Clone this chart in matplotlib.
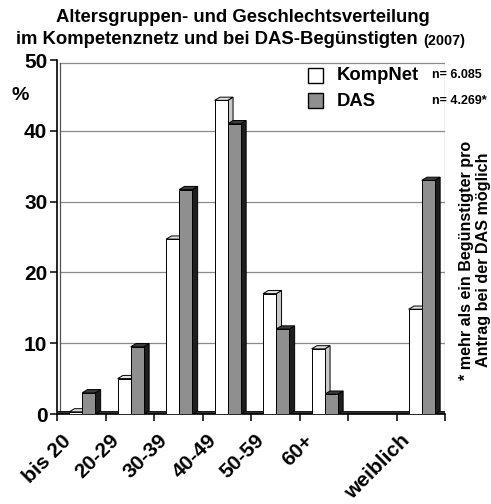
import matplotlib
matplotlib.use("Agg")
import matplotlib.pyplot as plt
from matplotlib.patches import Rectangle, Polygon

plt.rcParams["font.family"] = ["Liberation Sans", "DejaVu Sans"]
plt.rcParams["font.weight"] = "bold"

# Data (percent)
categories = ["bis 20", "20-29", "30-39", "40-49", "50-59", "60+", "", "weiblich"]
kompnet = [0.3, 5.0, 24.7, 44.3, 17.0, 9.2, 0.0, 14.8]
das = [3.0, 9.5, 31.7, 41.0, 12.0, 2.8, 0.0, 33.0]
yticks = [0, 10, 20, 30, 40, 50]

W, H = 491, 504
fig = plt.figure(figsize=(W / 100, H / 100), dpi=100)
# axes: left 57px, right 445px, top 60px, bottom 414px
ax = fig.add_axes([57 / W, (H - 414) / H, (445 - 57) / W, (414 - 60) / H])
ax.set_xlim(0, len(categories))
ax.set_ylim(0, 50)

dx, dy = 0.11, 0.45
bw = 0.27


def bar3d(x0, h, front, side, top):
    ax.add_patch(Polygon([(x0 + bw, 0), (x0 + bw + dx, dy), (x0 + bw + dx, h + dy), (x0 + bw, h)],
                         closed=True, fc=side, ec="black", lw=0.7, zorder=3))
    ax.add_patch(Polygon([(x0, h), (x0 + dx, h + dy), (x0 + bw + dx, h + dy), (x0 + bw, h)],
                         closed=True, fc=top, ec="black", lw=0.7, zorder=3))
    ax.add_patch(Rectangle((x0, 0), bw, h, fc=front, ec="black", lw=0.7, zorder=4))


# back wall / grid
for g in yticks[1:-1]:
    ax.plot([0.07, len(categories)], [g, g], color="#8a8a8a", lw=0.9, zorder=1)
ax.plot([0.07, len(categories)], [49.6, 49.6], color="#8a8a8a", lw=0.9, zorder=1)
ax.plot([0.07, 0.07], [0.3, 49.6], color="#555555", lw=0.9, zorder=1)
ax.plot([len(categories), len(categories)], [0.3, 49.6], color="#8a8a8a", lw=0.9, zorder=1)

# floor strip
ax.add_patch(Rectangle((0, 0), len(categories), 0.4, fc="#333333", ec="black", lw=0.6, zorder=2))

for i in range(len(categories)):
    if kompnet[i] > 0:
        bar3d(i + 0.25, kompnet[i], "white", "#c8c8c8", "#e0e0e0")
    if das[i] > 0:
        bar3d(i + 0.25 + bw, das[i], "#8f8f8f", "#1e1e1e", "#3c3c3c")

# axes styling
for s in ["top", "right"]:
    ax.spines[s].set_visible(False)
ax.spines["left"].set_linewidth(1.2)
ax.spines["bottom"].set_linewidth(1.2)
ax.set_yticks(yticks)
ax.set_yticklabels([str(t) for t in yticks], fontsize=15, fontweight="bold")
ax.set_xticks(range(len(categories) + 1))
ax.set_xticklabels([])
ax.tick_params(axis="both", length=5, width=1.1, direction="out", pad=2)

for i, lab in enumerate(categories):
    if lab:
        ax.text(i + 0.08, -2.4, lab, rotation=45, ha="right", va="top", rotation_mode="anchor",
                fontsize=15, fontweight="bold", clip_on=False)


def px(x, y):
    return x / W, 1 - y / H


fig.text(*px(20, 95), "%", fontsize=14, fontweight="bold", ha="center", va="center")

# title
fig.text(*px(243, 17), "Altersgruppen- und Geschlechtsverteilung", fontsize=13.3,
         fontweight="bold", ha="center", va="center")
fig.text(*px(418, 40), "im Kompetenznetz und bei DAS-Begünstigten", fontsize=13.3,
         fontweight="bold", ha="right", va="center")
fig.text(*px(423, 41), "(2007)", fontsize=10.4, fontweight="bold", ha="left", va="center")

# legend
fig.add_artist(Rectangle(px(308, 83), 15 / W, 15 / H, transform=fig.transFigure,
                         fc="white", ec="black", lw=1.0))
fig.add_artist(Rectangle(px(308, 108), 15 / W, 15 / H, transform=fig.transFigure,
                         fc="#8f8f8f", ec="black", lw=1.0))
fig.text(*px(337, 75), "KompNet", fontsize=13.3, fontweight="bold", ha="left", va="center")
fig.text(*px(337, 101), "DAS", fontsize=13.3, fontweight="bold", ha="left", va="center")
fig.text(*px(432, 75), "n= 6.085", fontsize=9, fontweight="bold", ha="left", va="center")
fig.text(*px(432, 101), "n= 4.269*", fontsize=9, fontweight="bold", ha="left", va="center")

# footnote
fig.text(*px(475, 260), "* mehr als ein Begünstigter pro\nAntrag bei der DAS möglich",
         fontsize=11.6, fontweight="bold", rotation=90, ha="center", va="center",
         multialignment="center", linespacing=1.15)

fig.savefig("out.png", dpi=100)
